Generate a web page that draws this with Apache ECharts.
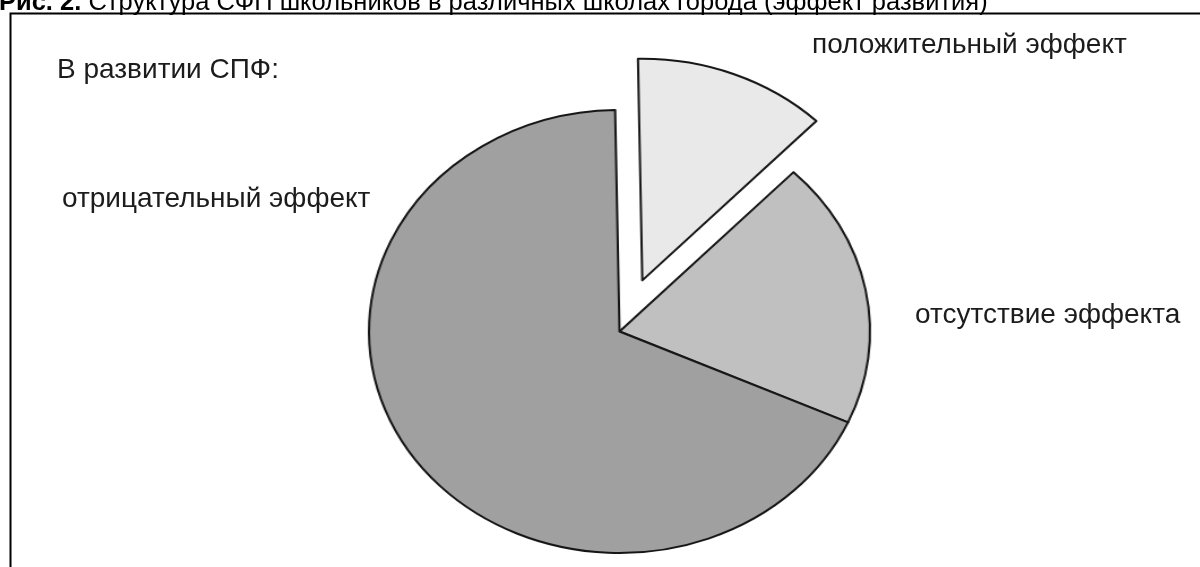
<!DOCTYPE html>
<html>
<head>
<meta charset="utf-8">
<script src="https://cdn.jsdelivr.net/npm/echarts@6/dist/echarts.min.js"></script>
<style>
  html, body { margin: 0; padding: 0; background: #fff; overflow: hidden; }
  #frame { position: absolute; left: 0; top: 0; width: 1200px; height: 567px; }
  /* the pie is drawn as a circle and stretched horizontally into an ellipse */
  #pie { position: absolute; left: 0; top: 0; width: 1200px; height: 567px;
         transform-origin: 619.5px 331.5px; transform: scaleX(1.131); }
</style>
</head>
<body>
<div id="frame"></div>
<div id="pie"></div>
<script>
// Figure text
const figureNumber = 'Рис. 2.';
const figureCaption = 'Структура СФП школьников в различных школах города (эффект развития)';
const heading = 'В развитии СПФ:';

// Slices, clockwise from the top
const categories = ['положительный эффект', 'отсутствие эффекта', 'отрицательный эффект'];
const shares = [12.5, 19.5, 68];

const labelFont = '28px "Liberation Sans", Arial, sans-serif';
const textColor = '#1c1c1c';

function label(text, x, y) {
  return {
    type: 'text', x: x, y: y, silent: true,
    style: { text: text, font: labelFont, fill: textColor, align: 'left', verticalAlign: 'top' }
  };
}

// Caption, frame and slice labels
const frame = echarts.init(document.getElementById('frame'), null, { renderer: 'canvas' });
frame.setOption({
  animation: false,
  graphic: [
    {
      type: 'rect', silent: true,
      shape: { x: 10.5, y: 13.5, width: 1300, height: 700 },
      style: { fill: 'none', stroke: '#000', lineWidth: 2 }
    },
    {
      type: 'text', x: -1, y: -10, silent: true,
      style: {
        text: '{b|' + figureNumber + '} ' + figureCaption,
        font: '25.5px "Liberation Sans", Arial, sans-serif', fill: '#000', verticalAlign: 'top',
        rich: { b: { font: 'bold 25.5px "Liberation Sans", Arial, sans-serif', fill: '#000' } }
      }
    },
    label(heading, 57, 56),
    label(categories[0], 812, 31),
    label(categories[2], 62, 185),
    label(categories[1], 915, 301)
  ]
});

// Pie
const pie = echarts.init(document.getElementById('pie'), null, { renderer: 'canvas' });
pie.setOption({
  animation: false,
  series: [{
    type: 'pie',
    center: [619.5, 331.5],
    radius: 221.5,
    startAngle: 91,
    clockwise: true,
    selectedMode: 'single',
    selectedOffset: 55,
    avoidLabelOverlap: false,
    label: { show: false },
    labelLine: { show: false },
    emphasis: { disabled: true },
    itemStyle: { borderColor: '#161616', borderWidth: 2 },
    data: categories.map((name, i) => ({
      name: name,
      value: shares[i],
      selected: i === 0,
      itemStyle: { color: ['#e9e9e9', '#c0c0c0', '#a0a0a0'][i] }
    }))
  }]
});
</script>
</body>
</html>
